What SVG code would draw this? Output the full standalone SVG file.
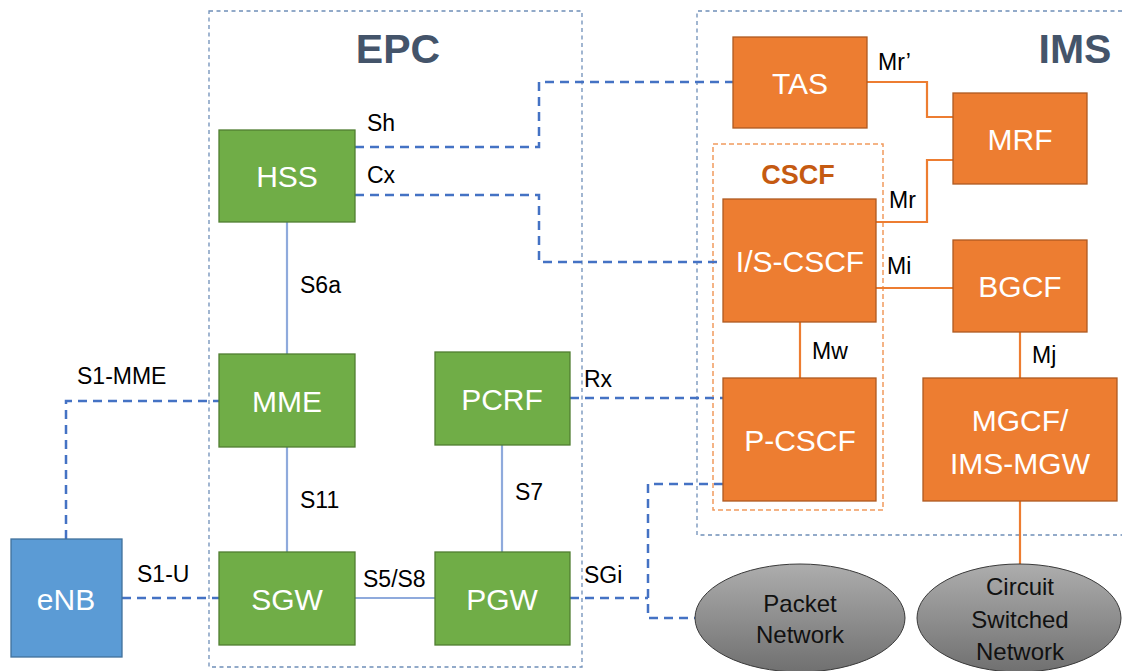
<svg xmlns="http://www.w3.org/2000/svg" width="1122" height="671" viewBox="0 0 1122 671">
  <defs>
    <linearGradient id="cloudFill" x1="0" y1="0" x2="0" y2="1">
      <stop offset="0" stop-color="#ADADAD"/>
      <stop offset="1" stop-color="#707070"/>
    </linearGradient>
    <style>
      .area { fill: none; stroke: #6F8FB8; stroke-width: 1.3; stroke-dasharray: 4 3.5; }
      .cscf-area { fill: none; stroke: #F19B5E; stroke-width: 1.5; stroke-dasharray: 5 3; }
      .title { font-family: "Liberation Sans", Arial, sans-serif; font-weight: bold; font-size: 41px; fill: #44546A; text-anchor: middle; }
      .cscf-title { font-family: "Liberation Sans", Arial, sans-serif; font-weight: bold; font-size: 27px; fill: #C55A11; text-anchor: middle; }
      .epc { fill: #70AD47; stroke: #507E32; stroke-width: 1.3; }
      .ims { fill: #ED7D31; stroke: #AE5A21; stroke-width: 1.3; }
      .ran { fill: #5B9BD5; stroke: #41719C; stroke-width: 1.3; }
      .cloud { fill: url(#cloudFill); stroke: #3A3A3A; stroke-width: 1; }
      .nt { font-family: "Liberation Sans", Arial, sans-serif; font-size: 30px; fill: #FFFFFF; text-anchor: middle; }
      .ct { font-family: "Liberation Sans", Arial, sans-serif; font-size: 24px; fill: #111111; text-anchor: middle; }
      .lbl { font-family: "Liberation Sans", Arial, sans-serif; font-size: 23px; fill: #000000; }
      .dash { fill: none; stroke: #4472C4; stroke-width: 2.5; stroke-dasharray: 9 6; }
      .solid { fill: none; stroke: #8FAADC; stroke-width: 2.2; }
      .orange { fill: none; stroke: #ED7D31; stroke-width: 2.2; }
    </style>
  </defs>

  <rect width="1122" height="671" fill="#FFFFFF"/>

  <!-- domain outlines -->
  <g id="epc-area">
    <rect class="area" x="209" y="11" width="373" height="656"/>
    <text class="title" x="398" y="63">EPC</text>
  </g>
  <g id="ims-area">
    <path class="area" d="M1122,11 H697 V535 H1122"/>
    <text class="title" x="1075" y="63">IMS</text>
  </g>
  <g id="cscf-area">
    <rect class="cscf-area" x="713" y="144" width="170" height="366"/>
    <text class="cscf-title" x="798" y="184">CSCF</text>
  </g>

  <!-- interfaces -->
  <g id="connectors">
    <path class="dash" d="M355,147 H539 V82 H733"/>
    <path class="dash" d="M355,195 H539 V262 H723"/>
    <path class="dash" d="M66,539 V401 H219"/>
    <path class="dash" d="M122,598 H219"/>
    <path class="dash" d="M570,398 H723"/>
    <path class="dash" d="M570,598 H648"/>
    <path class="dash" d="M723,484 H648 V618 H695"/>

    <path class="solid" d="M287,222 V354"/>
    <path class="solid" d="M287,447 V552"/>
    <path class="solid" d="M502,445 V552"/>
    <path class="solid" d="M355,598 H435"/>

    <path class="orange" d="M867,82 H927 V117 H953"/>
    <path class="orange" d="M876,222 H927 V160 H953"/>
    <path class="orange" d="M876,288 H953"/>
    <path class="orange" d="M800,322 V378"/>
    <path class="orange" d="M1020,332 V378"/>
    <path class="orange" d="M1020,501 V565"/>

    <text class="lbl" x="367" y="131">Sh</text>
    <text class="lbl" x="367" y="183">Cx</text>
    <text class="lbl" x="300" y="293">S6a</text>
    <text class="lbl" x="77" y="384">S1-MME</text>
    <text class="lbl" x="137" y="582">S1-U</text>
    <text class="lbl" x="300" y="508">S11</text>
    <text class="lbl" x="515" y="500">S7</text>
    <text class="lbl" x="363" y="587">S5/S8</text>
    <text class="lbl" x="584" y="387">Rx</text>
    <text class="lbl" x="584" y="583">SGi</text>
    <text class="lbl" x="878" y="70">Mr’</text>
    <text class="lbl" x="889" y="208">Mr</text>
    <text class="lbl" x="887" y="274">Mi</text>
    <text class="lbl" x="812" y="359">Mw</text>
    <text class="lbl" x="1032" y="363">Mj</text>
  </g>

  <!-- EPC nodes -->
  <g id="hss">
    <rect class="epc" x="219" y="130" width="136" height="92"/>
    <text class="nt" x="287" y="187">HSS</text>
  </g>
  <g id="mme">
    <rect class="epc" x="219" y="354" width="136" height="93"/>
    <text class="nt" x="287" y="412">MME</text>
  </g>
  <g id="pcrf">
    <rect class="epc" x="435" y="352" width="135" height="93"/>
    <text class="nt" x="502" y="410">PCRF</text>
  </g>
  <g id="sgw">
    <rect class="epc" x="219" y="552" width="136" height="93"/>
    <text class="nt" x="287" y="610">SGW</text>
  </g>
  <g id="pgw">
    <rect class="epc" x="435" y="552" width="135" height="93"/>
    <text class="nt" x="502" y="610">PGW</text>
  </g>

  <!-- radio access -->
  <g id="enb">
    <rect class="ran" x="11" y="539" width="111" height="118"/>
    <text class="nt" x="66" y="610">eNB</text>
  </g>

  <!-- IMS nodes -->
  <g id="tas">
    <rect class="ims" x="733" y="37" width="134" height="91"/>
    <text class="nt" x="800" y="94">TAS</text>
  </g>
  <g id="mrf">
    <rect class="ims" x="953" y="93" width="134" height="91"/>
    <text class="nt" x="1020" y="150">MRF</text>
  </g>
  <g id="is-cscf">
    <rect class="ims" x="723" y="199" width="153" height="123"/>
    <text class="nt" x="800" y="272">I/S-CSCF</text>
  </g>
  <g id="p-cscf">
    <rect class="ims" x="723" y="378" width="153" height="123"/>
    <text class="nt" x="800" y="451">P-CSCF</text>
  </g>
  <g id="bgcf">
    <rect class="ims" x="953" y="240" width="134" height="92"/>
    <text class="nt" x="1020" y="297">BGCF</text>
  </g>
  <g id="mgcf">
    <rect class="ims" x="923" y="378" width="194" height="123"/>
    <text class="nt" x="1020" y="431">MGCF/</text>
    <text class="nt" x="1020" y="474">IMS-MGW</text>
  </g>

  <!-- external networks -->
  <g id="packet-network">
    <ellipse class="cloud" cx="800" cy="618" rx="105" ry="54"/>
    <text class="ct" x="800" y="612">Packet</text>
    <text class="ct" x="800" y="643">Network</text>
  </g>
  <g id="circuit-network">
    <ellipse class="cloud" cx="1019" cy="618" rx="102" ry="54"/>
    <text class="ct" x="1020" y="595">Circuit</text>
    <text class="ct" x="1020" y="628">Switched</text>
    <text class="ct" x="1020" y="660">Network</text>
  </g>
</svg>
